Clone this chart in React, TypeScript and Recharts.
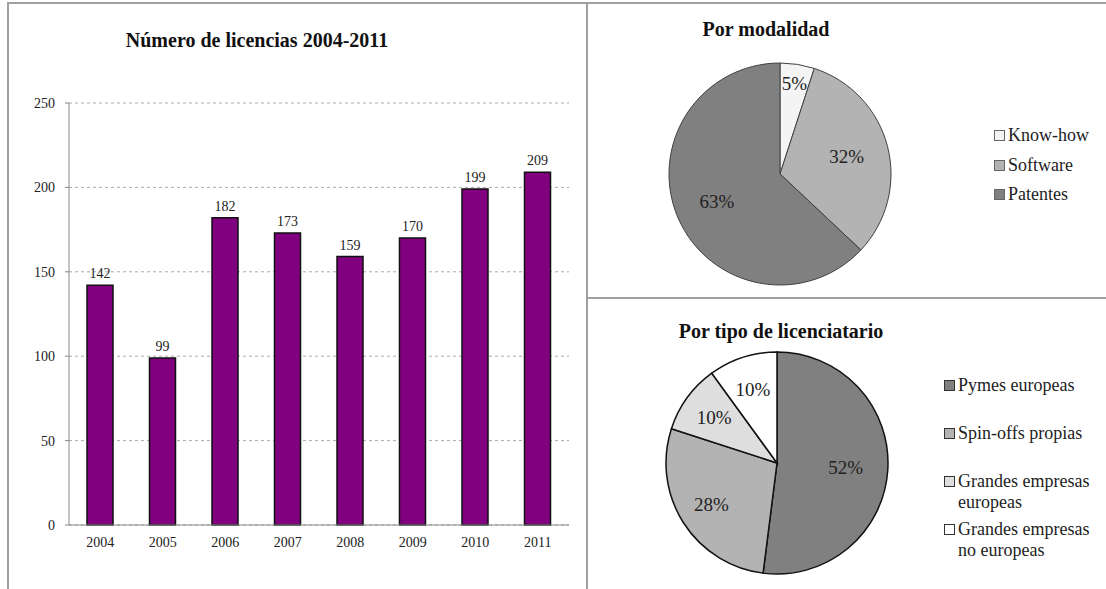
import {
  BarChart, Bar, XAxis, YAxis, CartesianGrid, LabelList,
  PieChart, Pie, Cell, Legend,
} from 'recharts'

const years = ['2004', '2005', '2006', '2007', '2008', '2009', '2010', '2011']
const licences = [142, 99, 182, 173, 159, 170, 199, 209]
const yTicks = [0, 50, 100, 150, 200, 250]

const modeNames = ['Know-how', 'Software', 'Patentes']
const modeShares = [5, 32, 63]
const modeColors = ['#f4f4f4', '#b3b3b3', '#808080']

const typeNames = ['Pymes europeas', 'Spin-offs propias', 'Grandes empresas europeas', 'Grandes empresas no europeas']
const typeShares = [52, 28, 10, 10]
const typeColors = ['#808080', '#b3b3b3', '#dedede', '#ffffff']

const barData = years.map((year, i) => ({ year, value: licences[i] }))
const modeData = modeNames.map((name, i) => ({ name, value: modeShares[i] }))
const typeData = typeNames.map((name, i) => ({ name, value: typeShares[i] }))

const serif = '"Liberation Serif", "Times New Roman", serif'
const RADIAN = Math.PI / 180
const borderColor = '#a0a0a0'

const titleStyle: React.CSSProperties = {
  position: 'absolute', fontFamily: serif, fontWeight: 700, fontSize: 20,
  color: '#111', whiteSpace: 'nowrap', transform: 'translate(-50%, -50%)',
}

function pieLabel(props: any) {
  const { cx, cy, midAngle, outerRadius, percent, value } = props
  const f = percent < 0.07 ? 0.83 : percent > 0.3 ? 0.62 : 0.7
  const r = outerRadius * f
  const x = cx + r * Math.cos(-midAngle * RADIAN)
  const y = cy + r * Math.sin(-midAngle * RADIAN)
  return (
    <text x={x} y={y} textAnchor="middle" dominantBaseline="central"
      fontFamily={serif} fontSize={19} fill="#222">
      {value}%
    </text>
  )
}

function PieLegend({ names, colors, rowH, squareBorder }: { names: string[]; colors: string[]; rowH: number; squareBorder: string }) {
  return (
    <div style={{ fontFamily: serif, fontSize: 18, color: '#222', lineHeight: '20.5px' }}>
      {names.map((n, i) => (
        <div key={n} style={{ display: 'flex', alignItems: 'flex-start', height: rowH }}>
          <span style={{
            width: 9, height: 9, marginTop: 5, marginRight: 3, flex: 'none',
            background: colors[i], border: `1px solid ${squareBorder}`,
          }} />
          <span style={{ width: 145 }}>{n}</span>
        </div>
      ))}
    </div>
  )
}

export default function App() {
  return (
    <div style={{ position: 'absolute', left: 0, top: 0, width: 1106, height: 589, background: '#fff', overflow: 'hidden' }}>
      {/* panel borders */}
      <div style={{ position: 'absolute', left: 7, top: 2, width: 1099, height: 2, background: borderColor }} />
      <div style={{ position: 'absolute', left: 7, top: 2, width: 2, height: 587, background: borderColor }} />
      <div style={{ position: 'absolute', left: 586, top: 2, width: 2, height: 587, background: borderColor }} />
      <div style={{ position: 'absolute', left: 586, top: 297, width: 520, height: 2, background: borderColor }} />

      {/* bar chart */}
      <div style={{ ...titleStyle, left: 257, top: 40 }}>Número de licencias 2004-2011</div>
      <div style={{ position: 'absolute', left: 0, top: 0 }}>
        <BarChart width={588} height={589} data={barData}
          margin={{ top: 103, right: 19, bottom: 34, left: 19 }}>
          <CartesianGrid vertical={false} stroke="#aaa" strokeDasharray="3 3" />
          <XAxis dataKey="year" stroke="#888" tickSize={0} tickMargin={12} height={30}
            tick={{ fontFamily: serif, fontSize: 14, fill: '#222' }} />
          <YAxis domain={[0, 250]} ticks={yTicks} width={50} stroke="#888"
            tickSize={4} tickMargin={10} interval={0}
            tick={{ fontFamily: serif, fontSize: 14, fill: '#222' }} />
          <Bar dataKey="value" fill="#800080" stroke="#111" strokeWidth={1.5}
            barSize={26} isAnimationActive={false}>
            <LabelList dataKey="value" position="top" offset={7}
              style={{ fontFamily: serif, fontSize: 14, fill: '#222' }} />
          </Bar>
        </BarChart>
      </div>

      {/* pie: por modalidad */}
      <div style={{ ...titleStyle, left: 766, top: 29 }}>Por modalidad</div>
      <div style={{ position: 'absolute', left: 590, top: 3 }}>
        <PieChart width={516} height={294} margin={{ top: 0, right: 0, bottom: 0, left: 0 }}>
          <Pie data={modeData} dataKey="value" nameKey="name" cx={190} cy={171}
            outerRadius={111} startAngle={90} endAngle={-270}
            stroke="#404040" strokeWidth={1} label={pieLabel} labelLine={false}
            isAnimationActive={false}>
            {modeData.map((d, i) => <Cell key={d.name} fill={modeColors[i]} />)}
          </Pie>
          <Legend layout="vertical" align="right" verticalAlign="top"
            wrapperStyle={{ position: 'absolute', left: 404, top: 122, width: 112 }}
            content={() => <PieLegend names={modeNames} colors={modeColors} rowH={29.5} squareBorder="#666" />} />
        </PieChart>
      </div>

      {/* pie: por tipo de licenciatario */}
      <div style={{ ...titleStyle, left: 781, top: 331 }}>Por tipo de licenciatario</div>
      <div style={{ position: 'absolute', left: 590, top: 299 }}>
        <PieChart width={516} height={290} margin={{ top: 0, right: 0, bottom: 0, left: 0 }}>
          <Pie data={typeData} dataKey="value" nameKey="name" cx={187} cy={164}
            outerRadius={111} startAngle={90} endAngle={-270}
            stroke="#111" strokeWidth={1.5} label={pieLabel} labelLine={false}
            isAnimationActive={false}>
            {typeData.map((d, i) => <Cell key={d.name} fill={typeColors[i]} />)}
          </Pie>
          <Legend layout="vertical" align="right" verticalAlign="top"
            wrapperStyle={{ position: 'absolute', left: 354, top: 76, width: 162 }}
            content={() => <PieLegend names={typeNames} colors={typeColors} rowH={48} squareBorder="#333" />} />
        </PieChart>
      </div>
    </div>
  )
}
